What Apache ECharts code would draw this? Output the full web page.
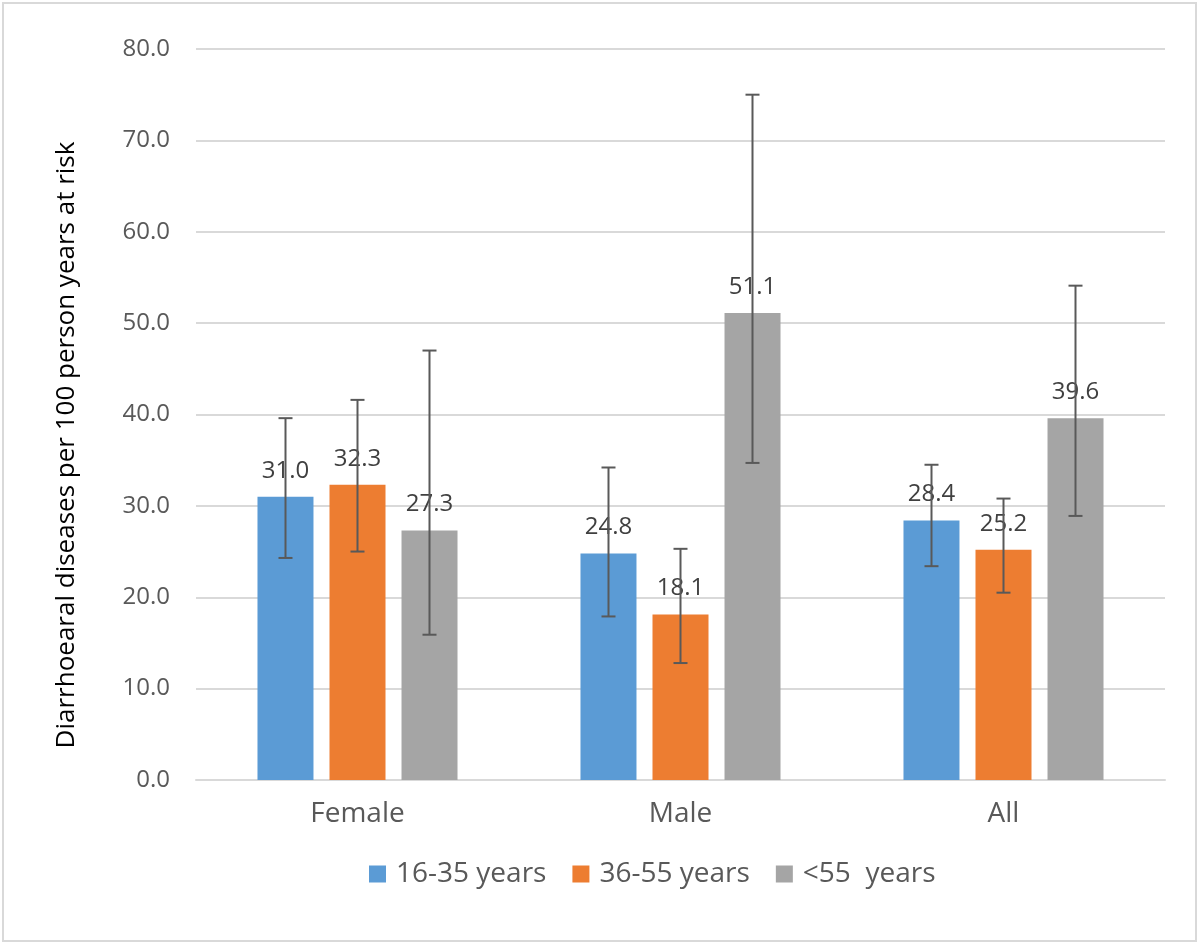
<!DOCTYPE html>
<html>
<head>
<meta charset="utf-8">
<script src="https://cdn.jsdelivr.net/npm/echarts@6/dist/echarts.min.js"></script>
<style>
  html, body { margin: 0; padding: 0; background: #fff; }
  #main { width: 1200px; height: 945px; }
</style>
</head>
<body>
<div id="main"></div>
<script>
  var categories = ['Female', 'Male', 'All'];
  var seriesNames = ['16-35 years', '36-55 years', '<55  years'];
  var colors = ['#5b9bd5', '#ed7d31', '#a5a5a5'];
  var yTitle = 'Diarrhoearal diseases per 100 person years at risk';

  var values16 = [31.0, 24.8, 28.4];
  var values36 = [32.3, 18.1, 25.2];
  var values55 = [27.3, 51.1, 39.6];

  // 95% CI bounds
  var low16 = [24.3, 17.9, 23.4];
  var high16 = [39.6, 34.2, 34.5];
  var low36 = [25.0, 12.8, 20.5];
  var high36 = [41.6, 25.3, 30.8];
  var low55 = [15.9, 34.7, 28.9];
  var high55 = [47.0, 75.0, 54.1];

  var yTicks = [0, 10, 20, 30, 40, 50, 60, 70, 80];

  var barWidth = 56;
  var barGapPx = 16;
  var font = '"Open Sans", sans-serif';

  var values = [values16, values36, values55];
  var lows = [low16, low36, low55];
  var highs = [high16, high36, high55];

  function errorData(i) {
    return categories.map(function (c, k) {
      return [k, lows[i][k], highs[i][k]];
    });
  }

  function errorSeries(i) {
    var offset = (i - 1) * (barWidth + barGapPx);
    return {
      type: 'custom',
      name: seriesNames[i] + ' CI',
      data: errorData(i),
      z: 10,
      silent: true,
      renderItem: function (params, api) {
        var lo = api.coord([api.value(0), api.value(1)]);
        var hi = api.coord([api.value(0), api.value(2)]);
        var x = lo[0] + offset;
        var cap = 7;
        var style = { stroke: '#595959', lineWidth: 2 };
        return {
          type: 'group',
          children: [
            { type: 'line', shape: { x1: x, y1: hi[1], x2: x, y2: lo[1] }, style: style },
            { type: 'line', shape: { x1: x - cap, y1: hi[1], x2: x + cap, y2: hi[1] }, style: style },
            { type: 'line', shape: { x1: x - cap, y1: lo[1], x2: x + cap, y2: lo[1] }, style: style }
          ]
        };
      }
    };
  }

  function barSeries(i) {
    return {
      type: 'bar',
      name: seriesNames[i],
      data: values[i],
      barWidth: barWidth,
      barGap: (barGapPx / barWidth * 100).toFixed(1) + '%',
      itemStyle: { color: colors[i] },
      label: {
        show: true,
        position: 'top',
        distance: 14,
        color: '#404040',
        fontFamily: font,
        fontSize: 24,
        formatter: function (p) { return p.value.toFixed(1); }
      }
    };
  }

  var series = [barSeries(0), barSeries(1), barSeries(2), errorSeries(0), errorSeries(1), errorSeries(2)];

  var chart = echarts.init(document.getElementById('main'));
  chart.setOption({
    backgroundColor: '#fff',
    animation: false,
    color: colors,
    graphic: [{
      type: 'rect',
      shape: { x: 3, y: 3, width: 1193, height: 938 },
      style: { fill: 'none', stroke: '#d9d9d9', lineWidth: 2 },
      silent: true
    }, {
      type: 'text',
      x: 67,
      y: 445,
      rotation: Math.PI / 2,
      style: {
        text: yTitle,
        fill: '#000',
        font: '26px "Open Sans", sans-serif',
        textAlign: 'center',
        textVerticalAlign: 'middle'
      },
      silent: true
    }],
    grid: { left: 196, right: 35, top: 49, bottom: 165 },
    legend: {
      data: seriesNames,
      bottom: 52,
      left: 364,
      icon: 'rect',
      itemWidth: 17,
      itemHeight: 17,
      itemGap: 26,
      textStyle: { color: '#595959', fontFamily: font, fontSize: 28, padding: [0, 0, 0, 5] }
    },
    xAxis: {
      type: 'category',
      data: categories,
      axisLine: { lineStyle: { color: '#d9d9d9', width: 2 } },
      axisTick: { show: false },
      axisLabel: { color: '#595959', fontFamily: font, fontSize: 28, margin: 20 }
    },
    yAxis: {
      type: 'value',
      min: 0,
      max: 80,
      interval: 10,
      axisLine: { show: false },
      axisTick: { show: false },
      splitLine: { lineStyle: { color: '#d9d9d9', width: 2 } },
      axisLabel: {
        color: '#595959',
        fontFamily: font,
        fontSize: 24,
        margin: 26,
        formatter: function (v) { return yTicks.indexOf(v) >= 0 ? v.toFixed(1) : ''; }
      }
    },
    series: series
  });
</script>
</body>
</html>
